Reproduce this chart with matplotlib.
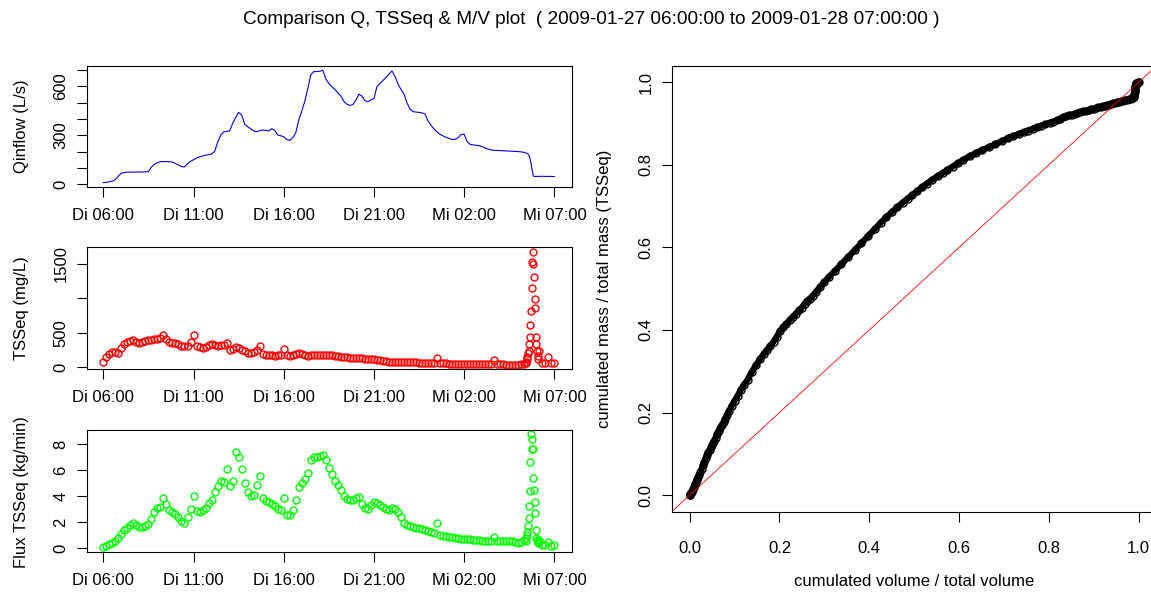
import numpy as np
import matplotlib
matplotlib.use("Agg")
import matplotlib.pyplot as plt

plt.rcParams['font.family'] = ['Liberation Sans', 'DejaVu Sans']

# ---- values ----
# main part: every 10 min from Di 06:00 (0 min) to 1400 min
t_main = np.arange(0, 1401, 10)
q_main = [10, 12, 15, 19, 28, 50,
          68, 72, 74, 74, 75, 75,
          75, 76, 76, 78, 105, 122,
          133, 138, 139, 139, 138, 136,
          127, 118, 108, 106, 126, 140,
          150, 160, 168, 173, 178, 181,
          185, 200, 255, 300, 320, 324,
          326, 372, 410, 440, 425, 368,
          352, 340, 326, 322, 328, 332,
          330, 327, 340, 330, 302, 297,
          291, 275, 268, 285, 315, 393,
          448, 508, 585, 670, 690, 690,
          692, 698, 645, 617, 598, 580,
          560, 540, 508, 490, 483, 488,
          515, 552, 540, 512, 505, 517,
          525, 598, 618, 635, 655, 675,
          694, 660, 615, 580, 552, 498,
          460, 445, 442, 440, 437, 430,
          388, 360, 338, 320, 306, 296,
          287, 281, 274, 275, 285, 305,
          306, 260, 244, 241, 239, 236,
          230, 222, 215, 210, 208, 207,
          206, 205, 204, 203, 202, 201,
          200, 198, 195]
tss_main = [78, 150, 185, 215, 215, 210,
            270, 330, 360, 380, 393, 370,
            348, 365, 385, 395, 400, 405,
            410, 420, 470, 410, 365, 355,
            348, 330, 310, 305, 306, 370,
            460, 310, 290, 275, 295, 325,
            330, 315, 305, 315, 320, 345,
            250, 265, 285, 270, 245, 228,
            210, 200, 215, 250, 300, 190,
            180, 175, 168, 165, 168, 172,
            257, 168, 160, 170, 190, 205,
            190, 172, 165, 168, 172, 175,
            175, 176, 175, 175, 170, 165,
            158, 152, 147, 142, 138, 133,
            130, 126, 124, 121, 118, 115,
            112, 108, 100, 92, 84, 78,
            77, 76, 74, 72, 70, 68,
            68, 67, 66, 65, 64, 63,
            63, 63, 63, 126, 60, 56,
            53, 50, 48, 46, 44, 44,
            44, 44, 44, 44, 44, 44,
            44, 44, 44, 43, 102, 41,
            40, 38, 36, 35, 34, 34,
            36, 40, 48]
flux_main = [0.10, 0.18, 0.28, 0.38, 0.55, 0.75,
             1.05, 1.35, 1.58, 1.75, 1.90, 1.75,
             1.60, 1.62, 1.68, 1.85, 2.25, 2.75,
             3.10, 3.20, 3.85, 3.40, 2.95, 2.80,
             2.65, 2.40, 2.05, 1.95, 2.40, 3.00,
             4.00, 2.85, 2.80, 2.90, 3.10, 3.45,
             3.70, 4.30, 4.80, 5.15, 5.10, 6.10,
             4.80, 5.20, 7.40, 7.00, 6.10, 5.00,
             4.30, 4.05, 4.10, 4.90, 5.60, 3.85,
             3.65, 3.55, 3.40, 3.25, 3.05, 2.90,
             3.85, 2.55, 2.55, 2.90, 3.70, 4.75,
             5.00, 5.30, 5.80, 6.80, 7.00, 7.05,
             7.10, 7.20, 6.80, 6.20, 5.70, 5.20,
             4.90, 4.50, 4.05, 3.75, 3.70, 3.70,
             3.85, 3.95, 3.40, 3.10, 3.05, 3.30,
             3.55, 3.50, 3.30, 3.15, 3.00, 2.95,
             3.10, 3.05, 2.75, 2.40, 1.95, 1.80,
             1.70, 1.65, 1.58, 1.52, 1.45, 1.39,
             1.30, 1.20, 1.12, 1.90, 0.98, 0.92,
             0.89, 0.86, 0.82, 0.78, 0.75, 0.73,
             0.70, 0.68, 0.66, 0.64, 0.62, 0.58,
             0.56, 0.54, 0.52, 0.50, 0.87, 0.50,
             0.51, 0.52, 0.55, 0.56, 0.50, 0.44,
             0.42, 0.48, 0.62]

# first-flush spike near Mi 05:30, every 2 min
t_spike = np.arange(1404, 1447, 2)
q_spike = [193, 192, 190, 188, 186, 182, 175, 165, 150, 130,
           110, 90, 70, 50, 48, 48, 48, 48, 48, 48, 48, 48]
tss_spike = [60, 80, 120, 150, 200, 240, 330, 441, 612, 816,
             1150, 1534, 1679, 1500, 1306, 995, 864, 441, 330, 230, 160, 110]
flux_spike = [0.55, 0.80, 1.00, 1.26, 1.70, 2.29, 3.24, 4.42, 6.66, 8.80,
              8.39, 7.62, 7.62, 5.38, 4.48, 3.57, 2.68, 1.39, 0.75, 0.62, 0.45, 0.35]

# tail up to Mi 07:00
t_tail = np.arange(1450, 1501, 10)
q_tail = [48, 49, 48, 48, 48, 47]
tss_tail = [233, 60, 55, 150, 60, 55]
flux_tail = [0.62, 0.23, 0.20, 0.49, 0.15, 0.20]

time_ticks = [0, 5, 10, 15, 20, 25]
time_labels = ["Di 06:00", "Di 11:00", "Di 16:00", "Di 21:00", "Mi 02:00", "Mi 07:00"]
q_ticks = [0, 100, 200, 300, 400, 500, 600, 700]
q_labels = ["0", "", "", "300", "", "", "600", ""]
tss_ticks = [0, 500, 1000, 1500]
tss_labels = ["0", "500", "", "1500"]
flux_ticks = [0, 2, 4, 6, 8]
mv_ticks = [0.0, 0.2, 0.4, 0.6, 0.8, 1.0]

title = "Comparison Q, TSSeq & M/V plot  ( 2009-01-27 06:00:00 to 2009-01-28 07:00:00 )"

# ---- assemble series ----
minutes = np.concatenate([t_main, t_spike, t_tail])
hours = minutes / 60.0
q = np.array(q_main + q_spike + q_tail, dtype=float)
tss = np.array(tss_main + tss_spike + tss_tail, dtype=float)
flux = np.array(flux_main + flux_spike + flux_tail, dtype=float)

# cumulated volume and mass (weighted by time step)
dt = np.diff(minutes, prepend=minutes[0] - 10)
cum_v = np.cumsum(q * dt) / np.sum(q * dt)
cum_m = np.cumsum(flux * dt) / np.sum(flux * dt)

# ---- figure ----
W, H = 1151, 593
fig = plt.figure(figsize=(W / 100, H / 100), dpi=100)


def px_axes(l, t, r, b):
    return fig.add_axes([l / W, 1 - b / H, (r - l) / W, (b - t) / H])


def style(ax):
    for s in ax.spines.values():
        s.set_linewidth(0.8)
        s.set_color("black")
    ax.tick_params(direction="out", length=7.2, width=0.8, labelsize=12)
    ax.tick_params(axis="x", pad=8)
    ax.tick_params(axis="y", pad=6)


mk = dict(linestyle="none", marker="o", mfc="none", markersize=5.0, mew=1.0)

ax1 = px_axes(86.7, 65.7, 571.7, 186.7)
ax1.plot(hours, q, color="#0000FF", lw=0.8)
ax1.set_ylim(-15, 726)

ax2 = px_axes(86.7, 247.3, 571.7, 369)
ax2.plot(hours, tss, color="#FF0000", **mk)
ax2.set_ylim(-29, 1743)

ax3 = px_axes(86.7, 430, 571.7, 551.7)
ax3.plot(hours, flux, color="#00FF00", **mk)
ax3.set_ylim(-0.29, 9.12)

for ax, ticks, labels in [(ax1, q_ticks, q_labels),
                          (ax2, tss_ticks, tss_labels),
                          (ax3, flux_ticks, [str(v) for v in flux_ticks])]:
    style(ax)
    ax.set_xlim(-0.92, 25.96)
    ax.set_xticks(time_ticks)
    ax.set_xticklabels(time_labels)
    ax.set_yticks(ticks)
    ax.set_yticklabels(labels, rotation=90, va="center")

ax4 = px_axes(671.7, 65.7, 1156.6, 511.7)
ax4.plot(cum_v, cum_m, color="black", lw=4.5, solid_capstyle="round",
         marker="o", mfc="none", markersize=5.0, mew=1.0)
ax4.axline((0, 0), (1, 1), color="#FF0000", lw=0.6)
ax4.set_xlim(-0.04, 1.04)
ax4.set_ylim(-0.04, 1.04)
style(ax4)
ax4.tick_params(axis="x", pad=14)
ax4.set_xticks(mv_ticks)
ax4.set_xticklabels(["%.1f" % v for v in mv_ticks])
ax4.set_yticks(mv_ticks)
ax4.set_yticklabels(["%.1f" % v for v in mv_ticks], rotation=90, va="center")

fig.text(22 / W, 1 - 126.2 / H, "Qinflow (L/s)", rotation=90, ha="center", va="center", fontsize=12)
fig.text(22 / W, 1 - 308.2 / H, "TSSeq (mg/L)", rotation=90, ha="center", va="center", fontsize=12)
fig.text(22 / W, 1 - 492 / H, "Flux TSSeq (kg/min)", rotation=90, ha="center", va="center", fontsize=12)
fig.text(605 / W, 1 - 288.7 / H, "cumulated mass / total mass (TSSeq)", rotation=90,
         ha="center", va="center", fontsize=12)
fig.text(914 / W, 1 - 581 / H, "cumulated volume / total volume", ha="center", va="center", fontsize=12)
fig.text(591 / W, 1 - 19 / H, title, ha="center", va="center", fontsize=13.7)

fig.savefig("out.png", dpi=100)
